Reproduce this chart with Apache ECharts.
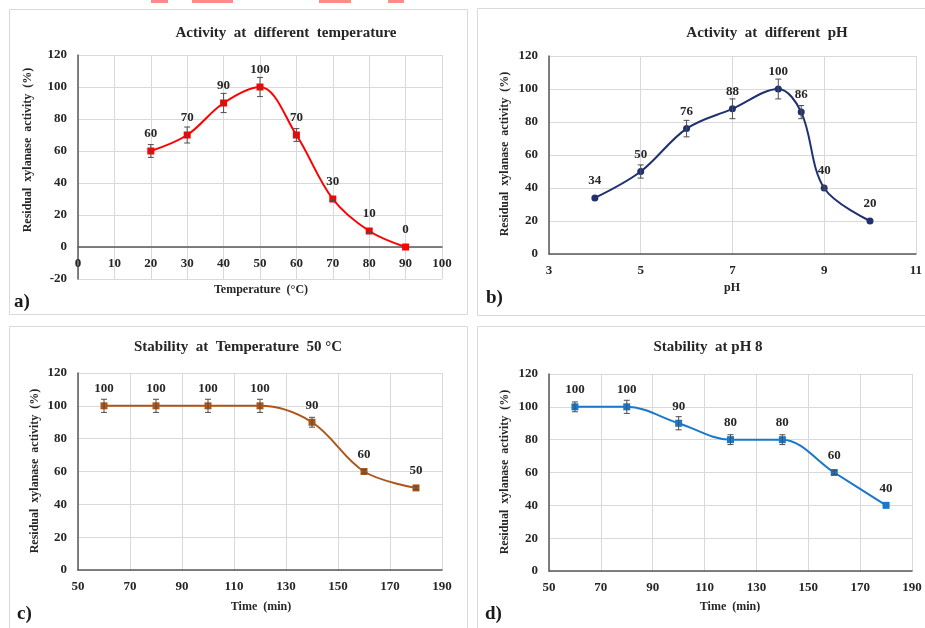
<!DOCTYPE html>
<html>
<head>
<meta charset="utf-8">
<script src="https://cdn.jsdelivr.net/npm/echarts@6/dist/echarts.min.js"></script>
<style>
  html, body { margin: 0; padding: 0; background: #ffffff; }
  #chart { width: 925px; height: 628px; }
</style>
</head>
<body>
<div id="chart"></div>
<script>
// ---- data ----
const tempX = [20, 30, 40, 50, 60, 70, 80, 90];
const tempActivity = [60, 70, 90, 100, 70, 30, 10, 0];
const tempActivityErr = [4, 5, 6, 6, 4, 1, 1, 0];

const phX = [4, 5, 6, 7, 8, 8.5, 9, 10];
const phActivity = [34, 50, 76, 88, 100, 86, 40, 20];
const phActivityErr = [0, 4, 5, 6, 6, 4, 1, 0];

const timeX = [60, 80, 100, 120, 140, 160, 180];
const tempStability = [100, 100, 100, 100, 90, 60, 50];
const tempStabilityErr = [4, 4, 4, 4, 3, 1, 1];
const phStability = [100, 100, 90, 80, 80, 60, 40];
const phStabilityErr = [3, 4, 4, 3, 3, 1, 0];

// ---- tick labels ----
const tempTicks = [0, 10, 20, 30, 40, 50, 60, 70, 80, 90, 100];
const phTicks = [3, 5, 7, 9, 11];
const timeTicks = [50, 70, 90, 110, 130, 150, 170, 190];
const activityTicksA = [-20, 0, 20, 40, 60, 80, 100, 120];
const activityTicks = [0, 20, 40, 60, 80, 100, 120];

// ---- text ----
const titles = [
  'Activity  at  different  temperature',
  'Activity  at  different  pH',
  'Stability  at  Temperature  50 \u00B0C',
  'Stability  at pH 8'
];
const yName = 'Residual  xylanase  activity  (%)';
const xNames = ['Temperature  (\u00B0C)', 'pH', 'Time  (min)', 'Time  (min)'];
const panelLetters = ['a)', 'b)', 'c)', 'd)'];

const SERIF = '"Liberation Serif", "Times New Roman", serif';
const GRID_COLOR = '#d9d9d9';
const AXIS_COLOR = '#595959';
const TEXT_COLOR = '#262626';

const chart = echarts.init(document.getElementById('chart'), null, { renderer: 'canvas' });

const H = 628;
const grids = [
  { left: 78, right: 483, top: 55, bottom: 349 },
  { left: 549, right: 8, top: 56, bottom: 374 },
  { left: 78, right: 483, top: 373, bottom: 58 },
  { left: 549, right: 13, top: 374, bottom: 57 }
];

// the temperature axis sits on the zero line of its value axis
const gridAHeight = H - grids[0].top - grids[0].bottom;
const spanA = activityTicksA[activityTicksA.length - 1] - activityTicksA[0];
const zeroOffsetA = -gridAHeight * (0 - activityTicksA[0]) / spanA;

const tickLabel = { fontFamily: SERIF, fontWeight: 'bold', fontSize: 13, color: TEXT_COLOR };

function makeX(ticks, idx, offset) {
  const min = ticks[0], max = ticks[ticks.length - 1];
  return {
    type: 'value', gridIndex: idx, min: min, max: max,
    position: 'bottom', offset: offset || 0,
    axisLine: { show: true, onZero: false, lineStyle: { color: AXIS_COLOR, width: 1.5 } },
    axisTick: { show: false, customValues: ticks },
    axisLabel: Object.assign({ margin: 10, customValues: ticks }, tickLabel),
    splitLine: { show: true, lineStyle: { color: GRID_COLOR, width: 1 } }
  };
}
function makeY(ticks, idx) {
  return {
    type: 'value', gridIndex: idx, min: ticks[0], max: ticks[ticks.length - 1], interval: 20,
    axisLine: { show: true, lineStyle: { color: AXIS_COLOR, width: 1.5 } },
    axisTick: { show: false },
    axisLabel: Object.assign({ margin: 11 }, tickLabel),
    splitLine: { show: true, lineStyle: { color: GRID_COLOR, width: 1 } }
  };
}

function lineSeries(xs, ys, idx, color, symbol) {
  return {
    type: 'line', xAxisIndex: idx, yAxisIndex: idx,
    data: xs.map((x, i) => [x, ys[i]]),
    smooth: 0.35,
    symbol: symbol, symbolSize: 7,
    lineStyle: { color: color, width: 2 },
    itemStyle: { color: color },
    label: {
      show: true, position: 'top', distance: 7,
      fontFamily: SERIF, fontWeight: 'bold', fontSize: 13, color: TEXT_COLOR
    },
    z: 3
  };
}

function errorSeries(xs, ys, es, idx) {
  return {
    type: 'custom', xAxisIndex: idx, yAxisIndex: idx,
    data: xs.map((x, i) => [x, ys[i], es[i]]),
    renderItem: function (params, api) {
      const x = api.value(0), y = api.value(1), e = api.value(2);
      if (!e) return null;
      const top = api.coord([x, y + e]);
      const bot = api.coord([x, y - e]);
      const w = 3;
      const style = { stroke: '#4d4d4d', lineWidth: 1 };
      return {
        type: 'group',
        children: [
          { type: 'line', shape: { x1: top[0], y1: top[1], x2: bot[0], y2: bot[1] }, style: style },
          { type: 'line', shape: { x1: top[0] - w, y1: top[1], x2: top[0] + w, y2: top[1] }, style: style },
          { type: 'line', shape: { x1: bot[0] - w, y1: bot[1], x2: bot[0] + w, y2: bot[1] }, style: style }
        ]
      };
    },
    z: 4,
    silent: true
  };
}

// panel frames, titles, axis names and letters
const frames = [
  [9, 9, 458, 305],
  [477, 8, 460, 307],
  [9, 326, 458, 310],
  [477, 326, 460, 310]
];
const titlePos = [[286, 33], [767, 33], [238, 347], [708, 347]];
const yNamePos = [[28, 150], [505, 154], [35, 471], [505, 472]];
const xNamePos = [[261, 290], [732, 288], [261, 607], [730, 607]];
const letterPos = [[14, 302], [486, 298], [17, 614], [485, 614]];

const graphics = [];
// faint marks along the top edge
[[151, 17], [192, 41], [319, 32], [388, 16]].forEach(r => {
  graphics.push({ type: 'rect', shape: { x: r[0], y: 0, width: r[1], height: 3 },
    style: { fill: '#ff8a8a' }, silent: true });
});
frames.forEach(f => {
  graphics.push({ type: 'rect', shape: { x: f[0] + 0.5, y: f[1] + 0.5, width: f[2], height: f[3] },
    style: { fill: 'none', stroke: '#d9d9d9', lineWidth: 1 }, silent: true, z: -1 });
});
titles.forEach((t, i) => {
  graphics.push({ type: 'text', x: titlePos[i][0], y: titlePos[i][1],
    style: { text: t, align: 'center', verticalAlign: 'middle',
      font: 'bold 15px ' + SERIF, fill: TEXT_COLOR } });
});
yNamePos.forEach(p => {
  graphics.push({ type: 'text', x: p[0], y: p[1], rotation: Math.PI / 2,
    style: { text: yName, align: 'center', verticalAlign: 'middle',
      font: 'bold 12px ' + SERIF, fill: TEXT_COLOR } });
});
xNames.forEach((t, i) => {
  graphics.push({ type: 'text', x: xNamePos[i][0], y: xNamePos[i][1],
    style: { text: t, align: 'center', verticalAlign: 'middle',
      font: 'bold 12px ' + SERIF, fill: TEXT_COLOR } });
});
panelLetters.forEach((t, i) => {
  graphics.push({ type: 'text', x: letterPos[i][0], y: letterPos[i][1],
    style: { text: t, align: 'left', verticalAlign: 'middle',
      font: 'bold 19px ' + SERIF, fill: '#1a1a1a' } });
});

const option = {
  backgroundColor: '#ffffff',
  animation: false,
  grid: grids,
  xAxis: [makeX(tempTicks, 0, zeroOffsetA), makeX(phTicks, 1), makeX(timeTicks, 2), makeX(timeTicks, 3)],
  yAxis: [makeY(activityTicksA, 0), makeY(activityTicks, 1), makeY(activityTicks, 2), makeY(activityTicks, 3)],
  series: [
    lineSeries(tempX, tempActivity, 0, '#ff0000', 'rect'),
    errorSeries(tempX, tempActivity, tempActivityErr, 0),
    lineSeries(phX, phActivity, 1, '#1f3170', 'circle'),
    errorSeries(phX, phActivity, phActivityErr, 1),
    lineSeries(timeX, tempStability, 2, '#ad561a', 'rect'),
    errorSeries(timeX, tempStability, tempStabilityErr, 2),
    lineSeries(timeX, phStability, 3, '#1b78c8', 'rect'),
    errorSeries(timeX, phStability, phStabilityErr, 3)
  ],
  graphic: graphics
};

chart.setOption(option);
</script>
</body>
</html>
